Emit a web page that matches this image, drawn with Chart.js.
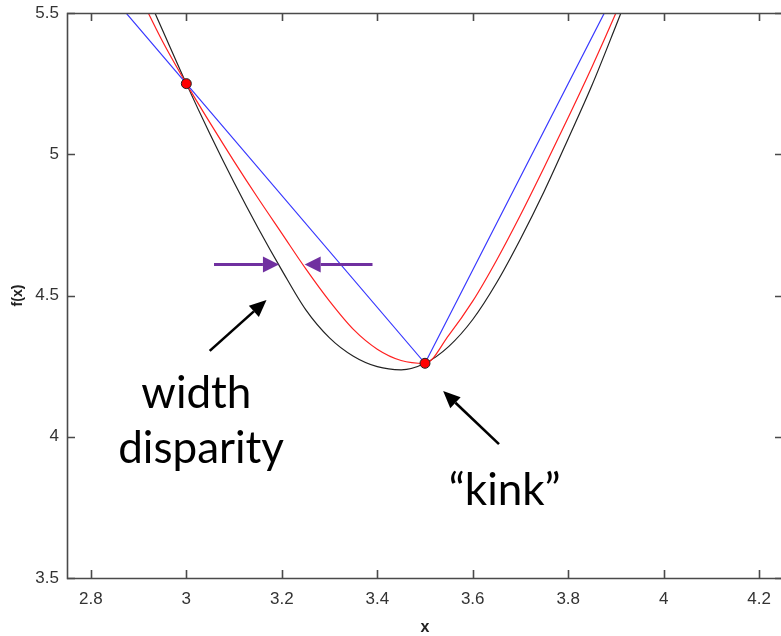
<!DOCTYPE html>
<html>
<head>
<meta charset="utf-8">
<script src="https://cdn.jsdelivr.net/npm/chart.js@4.4.1/dist/chart.umd.min.js"></script>
<style>
  html, body { margin: 0; padding: 0; background: #fff; overflow: hidden; width: 781px; height: 636px; }
  #wrap { width: 800px; height: 636px; }
</style>
</head>
<body>
<div id="wrap"><canvas id="c" width="800" height="636"></canvas></div>
<script>
// Tick values
const xTicks = [2.8, 3, 3.2, 3.4, 3.6, 3.8, 4, 4.2];
const yTicks = [3.5, 4, 4.5, 5, 5.5];

// Exact function f(x)
const exactX = [2.90, 2.95, 3.00, 3.05, 3.10, 3.15, 3.20, 3.25, 3.30, 3.35, 3.40, 3.45, 3.50,
                3.55, 3.60, 3.65, 3.70, 3.75, 3.80, 3.85, 3.90, 3.95];
const exactY = [5.63, 5.44, 5.25, 5.07, 4.90, 4.74, 4.59, 4.45, 4.35, 4.285, 4.248, 4.237, 4.26,
                4.32, 4.415, 4.545, 4.70, 4.87, 5.055, 5.245, 5.455, 5.67];

// Smooth approximation
const smoothX = [2.90, 2.95, 3.00, 3.05, 3.10, 3.15, 3.20, 3.25, 3.30, 3.35, 3.40, 3.45, 3.50,
                 3.55, 3.60, 3.65, 3.70, 3.75, 3.80, 3.85, 3.90, 3.95];
const smoothY = [5.57, 5.40, 5.25, 5.11, 4.975, 4.845, 4.72, 4.595, 4.48, 4.38, 4.31, 4.27, 4.26,
                 4.36, 4.48, 4.625, 4.785, 4.955, 5.13, 5.31, 5.50, 5.70];

// Piecewise-linear interpolant through the nodes
const linearX = [2.5, 3.0, 3.5, 4.0];
const linearY = [6.24, 5.25, 4.26, 5.91];

// Sample nodes
const nodeX = [3.0, 3.5];
const nodeY = [5.25, 4.26];

const toPts = (xs, ys) => xs.map((x, i) => ({ x: x, y: ys[i] }));

// Annotations (data coordinates)
const notes = [
  { text: 'width', x: 3.021, y: 4.102 },
  { text: 'disparity', x: 3.031, y: 3.907 },
  { text: '\u201Ckink\u201D', x: 3.667, y: 3.758 }
];
const widthArrows = [
  { from: [3.058, 4.61], to: [3.194, 4.61] },
  { from: [3.390, 4.61], to: [3.248, 4.61] }
];
const pointerArrows = [
  { from: [3.049, 4.304], to: [3.168, 4.484] },
  { from: [3.655, 3.974], to: [3.538, 4.162] }
];

const AXIS_COLOR = '#4a4a4a';
const TICK_FONT = { family: 'Liberation Sans, Arial, sans-serif', size: 17 };

function drawArrow(ctx, x0, y0, x1, y1, color, lw, headLen, headW) {
  const ang = Math.atan2(y1 - y0, x1 - x0);
  const bx = x1 - headLen * Math.cos(ang), by = y1 - headLen * Math.sin(ang);
  ctx.save();
  ctx.strokeStyle = color; ctx.fillStyle = color; ctx.lineWidth = lw;
  ctx.beginPath(); ctx.moveTo(x0, y0); ctx.lineTo(bx, by); ctx.stroke();
  const nx = -Math.sin(ang) * headW / 2, ny = Math.cos(ang) * headW / 2;
  ctx.beginPath();
  ctx.moveTo(x1, y1); ctx.lineTo(bx + nx, by + ny); ctx.lineTo(bx - nx, by - ny);
  ctx.closePath(); ctx.fill();
  ctx.restore();
}

const frameAndNotes = {
  id: 'frameAndNotes',
  afterDatasetsDraw(chart) {
    const { ctx, chartArea: a, scales: { x, y } } = chart;
    ctx.save();
    // axes box with inward ticks
    ctx.strokeStyle = AXIS_COLOR;
    ctx.lineWidth = 1.6;
    ctx.beginPath();
    ctx.rect(a.left + 0.5, a.top + 0.5, a.right - a.left, a.bottom - a.top);
    ctx.stroke();
    const tl = 8;
    ctx.beginPath();
    xTicks.forEach(v => {
      const px = Math.round(x.getPixelForValue(v)) + 0.5;
      ctx.moveTo(px, a.bottom); ctx.lineTo(px, a.bottom - tl);
      ctx.moveTo(px, a.top); ctx.lineTo(px, a.top + tl);
    });
    yTicks.forEach(v => {
      const py = Math.round(y.getPixelForValue(v)) + 0.5;
      ctx.moveTo(a.left, py); ctx.lineTo(a.left + tl, py);
      ctx.moveTo(a.right, py); ctx.lineTo(a.right - tl, py);
    });
    ctx.stroke();

    // width-disparity arrows
    widthArrows.forEach(ar => drawArrow(ctx,
      x.getPixelForValue(ar.from[0]), y.getPixelForValue(ar.from[1]),
      x.getPixelForValue(ar.to[0]), y.getPixelForValue(ar.to[1]),
      '#7030A0', 3, 16, 16));
    // pointer arrows
    pointerArrows.forEach(ar => drawArrow(ctx,
      x.getPixelForValue(ar.from[0]), y.getPixelForValue(ar.from[1]),
      x.getPixelForValue(ar.to[0]), y.getPixelForValue(ar.to[1]),
      '#000000', 2.6, 17, 15));

    // callout text
    ctx.fillStyle = '#000';
    ctx.font = '44px Lato, "Open Sans", sans-serif';
    ctx.textAlign = 'center';
    ctx.textBaseline = 'alphabetic';
    notes.forEach(n => ctx.fillText(n.text, x.getPixelForValue(n.x), y.getPixelForValue(n.y)));
    ctx.restore();
  }
};

new Chart(document.getElementById('c'), {
  type: 'scatter',
  data: {
    datasets: [
      { label: 'nodes', data: toPts(nodeX, nodeY), showLine: false,
        pointRadius: 5, pointHoverRadius: 5, pointBackgroundColor: '#ff0000',
        pointBorderColor: '#222', pointBorderWidth: 1, order: 0 },
      { label: 'linear', data: toPts(linearX, linearY), showLine: true, tension: 0,
        borderColor: '#3838ff', borderWidth: 1.2, pointRadius: 0, order: 1 },
      { label: 'smooth', data: toPts(smoothX, smoothY), showLine: true,
        cubicInterpolationMode: 'monotone',
        borderColor: '#ff2020', borderWidth: 1.2, pointRadius: 0, order: 2 },
      { label: 'exact', data: toPts(exactX, exactY), showLine: true,
        cubicInterpolationMode: 'monotone',
        borderColor: '#222', borderWidth: 1.2, pointRadius: 0, order: 3 }
    ]
  },
  options: {
    responsive: false,
    animation: false,
    devicePixelRatio: 1,
    layout: { padding: { top: 13, right: 17, left: 0, bottom: 0 } },
    plugins: { legend: { display: false }, tooltip: { enabled: false } },
    events: [],
    scales: {
      x: {
        type: 'linear', position: 'bottom', min: 2.75, max: 4.25,
        grid: { display: false, drawTicks: false }, border: { display: false },
        afterBuildTicks: s => { s.ticks = xTicks.map(v => ({ value: v })); },
        afterFit: s => { s.height = 58; s.paddingLeft = 0; s.paddingRight = 0; },
        ticks: { padding: 11, color: '#333', font: TICK_FONT, maxRotation: 0, autoSkip: false,
                 callback: v => String(v) },
        title: { display: true, text: 'x', color: '#222',
                 font: { family: 'Liberation Sans, Arial, sans-serif', size: 16, weight: 'bold', lineHeight: 1 },
                 padding: { top: 0, bottom: 0 } }
      },
      y: {
        type: 'linear', position: 'left', min: 3.5, max: 5.5,
        grid: { display: false, drawTicks: false }, border: { display: false },
        afterBuildTicks: s => { s.ticks = yTicks.map(v => ({ value: v })); },
        afterFit: s => { s.width = 67; s.paddingTop = 0; s.paddingBottom = 0; },
        ticks: { padding: 8, color: '#333', font: TICK_FONT, autoSkip: false,
                 callback: v => String(v) },
        title: { display: true, text: 'f(x)', color: '#222',
                 font: { family: 'Liberation Sans, Arial, sans-serif', size: 14, weight: 'bold', lineHeight: 1 },
                 padding: { top: 11, bottom: 0 } }
      }
    }
  },
  plugins: [frameAndNotes]
});
</script>
</body>
</html>
